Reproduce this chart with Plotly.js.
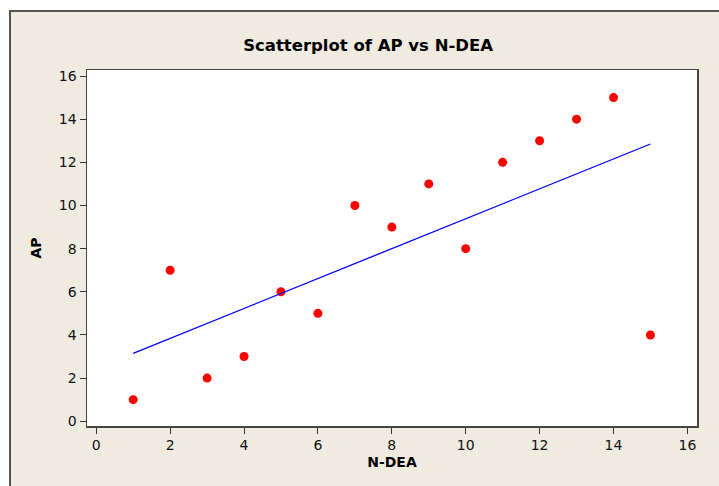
<!DOCTYPE html>
<html>
<head>
<meta charset="utf-8">
<script src="https://cdn.plot.ly/plotly-3.0.1.min.js"></script>
<style>
  html, body { margin: 0; padding: 0; background: #ffffff; }
  #frame { position: absolute; left: 9px; top: 10px; width: 712px; height: 478px;
           background: #efebe0; border-left: 2px solid #555; border-top: 2px solid #555; }
  #chart { position: absolute; left: 0; top: 0; width: 719px; height: 486px; }
</style>
</head>
<body>
<div id="frame"></div>
<div id="chart"></div>
<script>
// Data
const nDEA = [1, 2, 3, 4, 5, 6, 7, 8, 9, 10, 11, 12, 13, 14, 15];
const AP   = [1, 7, 2, 3, 6, 5, 10, 9, 11, 8, 12, 13, 14, 15, 4];
// Fitted line end points
const fitX = [1, 15];
const fitY = [3.15, 12.85];
const tickVals = [0, 2, 4, 6, 8, 10, 12, 14, 16];

const tickFont = { family: 'DejaVu Sans, sans-serif', size: 14, color: '#111' };
const titleFont = { family: 'DejaVu Sans, sans-serif', size: 14, color: '#000' };

const traces = [
  { x: nDEA, y: AP, type: 'scatter', mode: 'markers',
    marker: { color: '#ff0000', size: 9 }, hoverinfo: 'skip' },
  { x: fitX, y: fitY, type: 'scatter', mode: 'lines',
    line: { color: '#0000ff', width: 1.3 }, hoverinfo: 'skip' }
];

const axisCommon = {
  tickmode: 'array', tickvals: tickVals, ticktext: tickVals.map(String),
  ticks: 'outside', ticklen: 6, tickwidth: 1, tickcolor: '#333',
  showline: true, mirror: true, linecolor: '#444', linewidth: 1.5,
  showgrid: false, zeroline: false, tickfont: tickFont
};

const layout = {
  width: 719, height: 486,
  paper_bgcolor: 'rgba(0,0,0,0)', plot_bgcolor: '#ffffff',
  margin: { l: 87, r: 22, t: 70, b: 60 },
  showlegend: false,
  title: { text: '<b>Scatterplot of AP vs N-DEA</b>',
           font: { family: 'DejaVu Sans, sans-serif', size: 16.5, color: '#000' },
           x: 0.512, xanchor: 'center', y: 0.907, yanchor: 'middle', yref: 'container' },
  xaxis: Object.assign({}, axisCommon, {
    range: [-0.25, 16.26],
    title: { text: '<b>N-DEA</b>', font: titleFont, standoff: 5 }
  }),
  yaxis: Object.assign({}, axisCommon, {
    range: [-0.22, 16.28],
    title: { text: '<b>AP</b>', font: titleFont, standoff: 14 }
  })
};

Plotly.newPlot('chart', traces, layout, { displayModeBar: false, staticPlot: true });
</script>
</body>
</html>
